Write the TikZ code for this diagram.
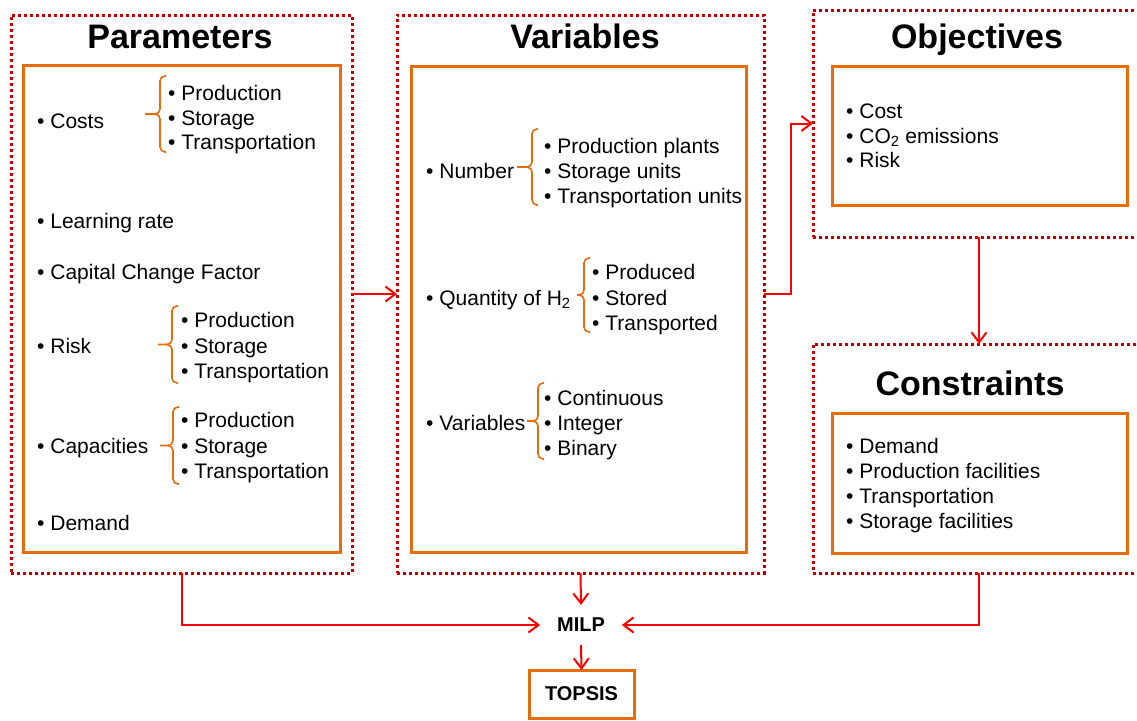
\documentclass[tikz,border=0pt]{standalone}
\usepackage{fontspec}
\setmainfont{Liberation Sans}
\usetikzlibrary{arrows.meta}
\definecolor{dotred}{HTML}{C00000}
\definecolor{orng}{HTML}{E46C0A}
\definecolor{arred}{HTML}{FF0000}
\tikzset{
 dotbox/.style={draw=dotred, line width=3pt, dash pattern=on 3pt off 3pt, rectangle, inner sep=0pt, outer sep=0pt},
 orbox/.style={draw=orng, line width=3pt, rectangle, inner sep=0pt, outer sep=0pt},
 arr/.style={draw=arred, line width=2pt, -{Straight Barb[length=10pt,width=15pt,line width=2pt]}},
 item/.style={anchor=base west, inner sep=0pt, font=\fontsize{21}{24}\selectfont},
 ttl/.style={anchor=base, inner sep=0pt, font=\fontsize{34}{40}\selectfont\bfseries},
 brc/.style={draw=orng, line width=1.6pt, rounded corners=5pt},
 boldlbl/.style={font=\fontsize{20}{24}\selectfont\bfseries, inner xsep=17pt, inner ysep=0pt, minimum height=40pt, outer sep=0pt},
}
\newcommand\obr[4]{%
 \draw[brc] ({#1+6},#2) -- (#1,#2) -- (#1,{(#2+#3)/2}) -- (#4,{(#2+#3)/2});
 \draw[brc] ({#1+6},#3) -- (#1,#3) -- (#1,{(#2+#3)/2}) -- ({#1-6},{(#2+#3)/2});
}
\begin{document}
\begin{tikzpicture}[x=1pt,y=-1pt]
\useasboundingbox (0,0) rectangle (1137,720);
\clip (0,0) rectangle (1137,720);
% outer dotted boxes
\node[dotbox, minimum width=341pt, minimum height=558pt] (par) at (181.5,294) {};
\node[dotbox, minimum width=367pt, minimum height=558pt] (var) at (580.5,294) {};
\node[dotbox, minimum width=332pt, minimum height=227pt] (obj) at (979,123.5) {};
\node[dotbox, minimum width=332pt, minimum height=229pt] (con) at (979,458.5) {};
% inner orange boxes
\node[orbox, minimum width=317pt, minimum height=487pt] (parin) at (181.5,308.5) {};
\node[orbox, minimum width=335pt, minimum height=486pt] (varin) at (578.5,309) {};
\node[orbox, minimum width=295pt, minimum height=139pt] (objin) at (979.5,135.5) {};
\node[orbox, minimum width=295pt, minimum height=140pt] (conin) at (979.5,483) {};
% titles
\node[ttl] (tpar) at (180,48) {Parameters};
\node[ttl] (tvar) at (585,48) {Variables};
\node[ttl] (tobj) at (977,48) {Objectives};
\node[ttl] (tcon) at (970,395) {Constraints};
% Parameters content
\node[item] (p1) at (37,128) {• Costs};
\node[item] (p1a) at (168,100) {• Production};
\node[item] (p1b) at (168,125) {• Storage};
\node[item] (p1c) at (168,149) {• Transportation};
\obr{160}{76}{152}{145}
\node[item] (p2) at (37,228) {• Learning rate};
\node[item] (p3) at (37,279) {• Capital Change Factor};
\node[item] (p4) at (37,353) {• Risk};
\node[item] (p4a) at (181,327) {• Production};
\node[item] (p4b) at (181,353) {• Storage};
\node[item] (p4c) at (181,378) {• Transportation};
\obr{172}{306}{383}{158}
\node[item] (p5) at (37,453) {• Capacities};
\node[item] (p5a) at (181,427) {• Production};
\node[item] (p5b) at (181,453) {• Storage};
\node[item] (p5c) at (181,478) {• Transportation};
\obr{173}{407}{484}{160}
\node[item] (p6) at (37,530) {• Demand};
% Variables content
\node[item] (v1) at (426,178) {• Number};
\node[item] (v1a) at (544,153) {• Production plants};
\node[item] (v1b) at (544,178) {• Storage units};
\node[item] (v1c) at (544,203) {• Transportation units};
\obr{532}{129}{205}{517}
\node[item] (v2) at (426,305) {• Quantity of H\textsubscript{2}};
\node[item] (v2a) at (592,279) {• Produced};
\node[item] (v2b) at (592,305) {• Stored};
\node[item] (v2c) at (592,330) {• Transported};
\obr{584}{258}{332}{577}
\node[item] (v3) at (426,430) {• Variables};
\node[item] (v3a) at (544,405) {• Continuous};
\node[item] (v3b) at (544,430) {• Integer};
\node[item] (v3c) at (544,455) {• Binary};
\obr{538}{383}{459}{527}
% Objectives content
\node[item] (o1) at (846,118) {• Cost};
\node[item] (o2) at (846,143) {• CO\textsubscript{2} emissions};
\node[item] (o3) at (846,167) {• Risk};
% Constraints content
\node[item] (c1) at (846,453) {• Demand};
\node[item] (c2) at (846,478) {• Production facilities};
\node[item] (c3) at (846,503) {• Transportation};
\node[item] (c4) at (846,528) {• Storage facilities};
% MILP and TOPSIS
\node[boldlbl] (milp) at (581,625) {MILP};
\node[orbox, minimum width=105pt, minimum height=48pt, font=\fontsize{20}{24}\selectfont\bfseries] (topsis) at (581.5,694) {TOPSIS};
% connectors
\draw[arr] (par.east) -- (var.west);
\draw[arr] (var.east) -- ++(27,0) |- (obj.west);
\draw[arr] (obj.south) -- (con.north);
\draw[arr] (par.south) |- (milp.west);
\draw[arr] (var.south) -- (milp.north);
\draw[arr] (con.south) |- (milp.east);
\draw[arr] (milp.south) -- (topsis.north);
\end{tikzpicture}
\end{document}
